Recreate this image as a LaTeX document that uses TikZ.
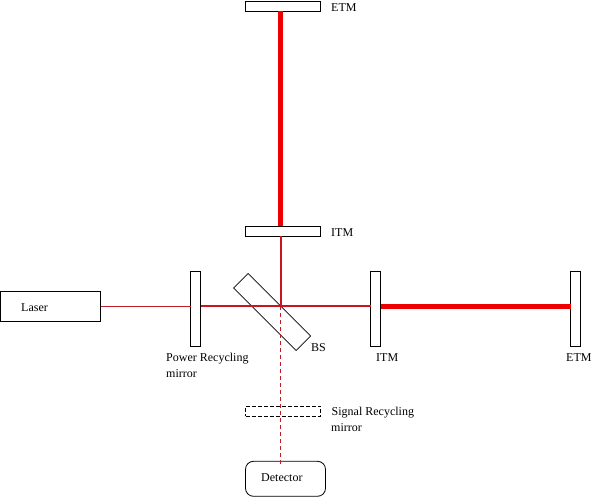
\documentclass[tikz,border=0pt]{standalone}
\usepackage{fontspec}
\setmainfont{Liberation Serif}
\definecolor{beamthin}{RGB}{190,30,40}
\definecolor{beammid}{RGB}{205,20,30}
\definecolor{beamfull}{RGB}{238,0,0}
\tikzset{
  optic/.style={draw=black,line width=0.8pt,fill=white,inner sep=0pt,outer sep=0pt,rectangle},
  vmirror/.style={optic,minimum width=10pt,minimum height=75pt},
  hmirror/.style={optic,minimum width=75pt,minimum height=10pt},
  lbl/.style={anchor=west,inner sep=0pt,font=\fontsize{12pt}{15pt}\selectfont,align=left},
  beamlow/.style={draw=beamthin,line width=1pt},
  beammed/.style={draw=beammid,line width=2pt},
  beamhigh/.style={draw=beamfull,line width=5pt},
  beamdash/.style={draw=beamthin,line width=1pt,dash pattern=on 4pt off 3pt}
}
\begin{document}
\begin{tikzpicture}[x=1pt,y=-1pt]
\useasboundingbox (0,0) rectangle (592,497);
\coordinate (split) at (280.5,306);
\node[optic,minimum width=100pt,minimum height=30pt] (laser) at (50.5,306) {};
\node[vmirror] (prm) at (195.5,308.5) {};
\node[vmirror] (itmx) at (375.5,308.5) {};
\node[vmirror] (etmx) at (575.5,308.5) {};
\node[hmirror] (itmy) at (283,231) {};
\node[hmirror] (etmy) at (283,6) {};
\node[optic,dash pattern=on 4pt off 2pt,minimum width=75pt,minimum height=10pt,fill=none] (srm) at (283,411) {};
\node[optic,rounded corners=8pt,minimum width=80pt,minimum height=35pt] (det) at (285.5,478.8) {};
\node[optic,fill=none,line width=0.7pt,minimum width=88.5pt,minimum height=20.5pt,rotate=-45] (bs) at (272.1,312) {};
\coordinate (detin) at (280.5,466.7);
\draw[beamlow] (laser.east) -- (laser.east -| prm.west);
\draw[beammed] (laser.east -| prm.east) -- (split) -- (split -| itmx.west);
\draw[beamhigh] (split -| itmx.east) -- (split -| etmx.west);
\draw[beammed] (split) -- (split |- itmy.south);
\draw[beamhigh] (split |- itmy.north) -- (split |- etmy.south);
\draw[beamdash] (split) -- (detin);
\node[lbl] (tlaser) at (21,308) {Laser};
\node[lbl] (tetmy) at (331,7.5) {ETM};
\node[lbl] (titmy) at (331,232.5) {ITM};
\node[lbl] (tprm) at (166,358.5) {Power Recycling};
\node[lbl] (tprm2) at (166,373.5) {mirror};
\node[lbl] (tbs) at (311,347.5) {BS};
\node[lbl] (titmx) at (376,357.5) {ITM};
\node[lbl] (tetmx) at (566,357.5) {ETM};
\node[lbl] (tsrm) at (331.5,412.5) {Signal Recycling};
\node[lbl] (tsrm2) at (331,427.5) {mirror};
\node[lbl] (tdet) at (261,478) {Detector};
\end{tikzpicture}
\end{document}
